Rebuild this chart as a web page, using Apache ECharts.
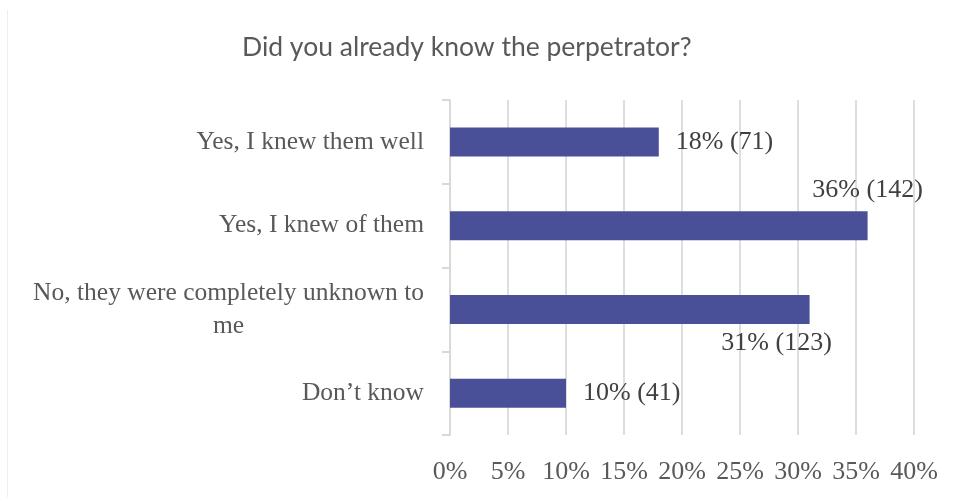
<!DOCTYPE html>
<html>
<head>
<meta charset="utf-8">
<script src="https://cdn.jsdelivr.net/npm/echarts@6/dist/echarts.min.js"></script>
<style>html,body{margin:0;padding:0;background:#fff}#c{width:955px;height:497px}</style>
</head>
<body>
<div id="c"></div>
<script>
var titleText = 'Did you already know the perpetrator?';
var categories = ['Yes, I knew them well', 'Yes, I knew of them', 'No, they were completely unknown to\nme', 'Don\u2019t know'];
var percents = [18, 36, 31, 10];
var counts = [71, 142, 123, 41];
var xTicks = [0, 5, 10, 15, 20, 25, 30, 35, 40];

var serif = '"Liberation Serif", "DejaVu Serif", serif';
var labelPlacement = [
  { position: 'right', distance: 17 },
  { position: ['100%', -21], align: 'center', verticalAlign: 'middle' },
  { position: ['100%', '100%'], offset: [-33, 19], align: 'center', verticalAlign: 'middle' },
  { position: 'right', distance: 17 }
];

var data = percents.map(function (v, i) {
  var lab = Object.assign({
    show: true,
    formatter: v + '% (' + counts[i] + ')',
    fontFamily: serif, fontSize: 26, color: '#404040'
  }, labelPlacement[i]);
  return { value: v, label: lab };
});

var chart = echarts.init(document.getElementById('c'), null, { renderer: 'canvas' });
chart.setOption({
  animation: false,
  backgroundColor: '#ffffff',
  title: {
    text: titleText, left: 237, top: 29,
    textStyle: { fontFamily: 'Lato, "Open Sans", sans-serif', fontWeight: 'normal', fontSize: 26.5, color: '#595959' }
  },
  graphic: [{
    type: 'line', shape: { x1: 7.5, y1: 10, x2: 7.5, y2: 497 },
    style: { stroke: '#eeeeee', lineWidth: 1 }
  }],
  grid: { left: 450, right: 41, top: 100, bottom: 62, containLabel: false },
  xAxis: {
    type: 'value', min: xTicks[0], max: xTicks[xTicks.length - 1], interval: xTicks[1] - xTicks[0],
    axisLine: { show: false }, axisTick: { show: false },
    splitLine: { show: true, lineStyle: { color: '#dedede', width: 2 } },
    axisLabel: { formatter: '{value}%', fontFamily: serif, fontSize: 26, color: '#595959', margin: 24 }
  },
  yAxis: {
    type: 'category', inverse: true, data: categories,
    axisLine: { show: true, lineStyle: { color: '#d9d9d9', width: 2 } },
    axisTick: { show: true, length: 8, lineStyle: { color: '#d9d9d9', width: 2 } },
    axisLabel: {
      margin: 26, fontFamily: serif, fontSize: 25.5, color: '#595959',
      formatter: function (v) { return v.split('\n').map(function (s) { return '{c|' + s + '}'; }).join('\n'); },
      rich: { c: { align: 'center', fontFamily: serif, fontSize: 25.5, color: '#595959', lineHeight: 33 } }
    }
  },
  series: [{
    type: 'bar', data: data, barWidth: 29,
    itemStyle: { color: '#4a5097' }
  }]
});
</script>
</body>
</html>
